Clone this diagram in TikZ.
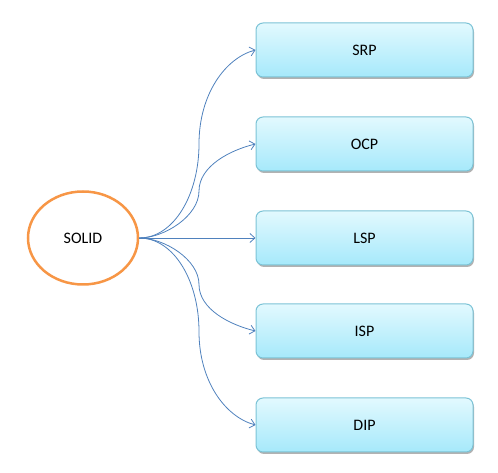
\documentclass[tikz,border=0pt]{standalone}
\usepackage{fontspec}
\setmainfont{Carlito}
\usetikzlibrary{arrows.meta,shadows,shapes.geometric}
\definecolor{linkblue}{RGB}{79,129,189}
\definecolor{solidorange}{RGB}{247,150,70}
\definecolor{boxtop}{RGB}{226,249,254}
\definecolor{boxbot}{RGB}{166,233,251}
\definecolor{boxline}{RGB}{124,195,214}
\tikzset{
  principle/.style={draw=boxline, line width=1pt, rounded corners=7pt,
    minimum width=217pt, minimum height=54pt, inner sep=0pt,
    top color=boxtop, bottom color=boxbot,
    drop shadow={shadow xshift=1pt, shadow yshift=-2pt, opacity=0.3, fill=black},
    font=\fontsize{16}{19}\selectfont},
  rootnode/.style={draw=solidorange, line width=2.5pt, ellipse, fill=white,
    minimum width=110pt, minimum height=93pt, inner sep=0pt,
    font=\fontsize{16}{19}\selectfont},
  link/.style={draw=linkblue, line width=0.8pt, -{Straight Barb[length=5pt,width=9pt]}}
}
\begin{document}
\begin{tikzpicture}[x=1pt,y=1pt]
\useasboundingbox (0,0) rectangle (498,473);
\node[rootnode] (sol) at (83,235) {SOLID};
\node[principle] (srp) at (364.5,423) {SRP};
\node[principle] (ocp) at (364.5,329) {OCP};
\node[principle] (lsp) at (364.5,235) {LSP};
\node[principle] (isp) at (364.5,142) {ISP};
\node[principle] (dip) at (364.5,48) {DIP};
\coordinate (m1) at (199,329);
\coordinate (m2) at (199,282);
\coordinate (m4) at (199,188.5);
\coordinate (m5) at (199,141.5);
\draw[link] (sol.east) .. controls +(35,0) and +(0,-50) .. (m1) .. controls +(0,50) and +(-30,-8) .. (srp.west);
\draw[link] (sol.east) .. controls +(25,0) and +(0,-25) .. (m2) .. controls +(0,25) and +(-25,-6) .. (ocp.west);
\draw[link] (sol.east) -- (lsp.west);
\draw[link] (sol.east) .. controls +(25,0) and +(0,25) .. (m4) .. controls +(0,-25) and +(-25,6) .. (isp.west);
\draw[link] (sol.east) .. controls +(35,0) and +(0,50) .. (m5) .. controls +(0,-50) and +(-30,8) .. (dip.west);
\end{tikzpicture}
\end{document}
